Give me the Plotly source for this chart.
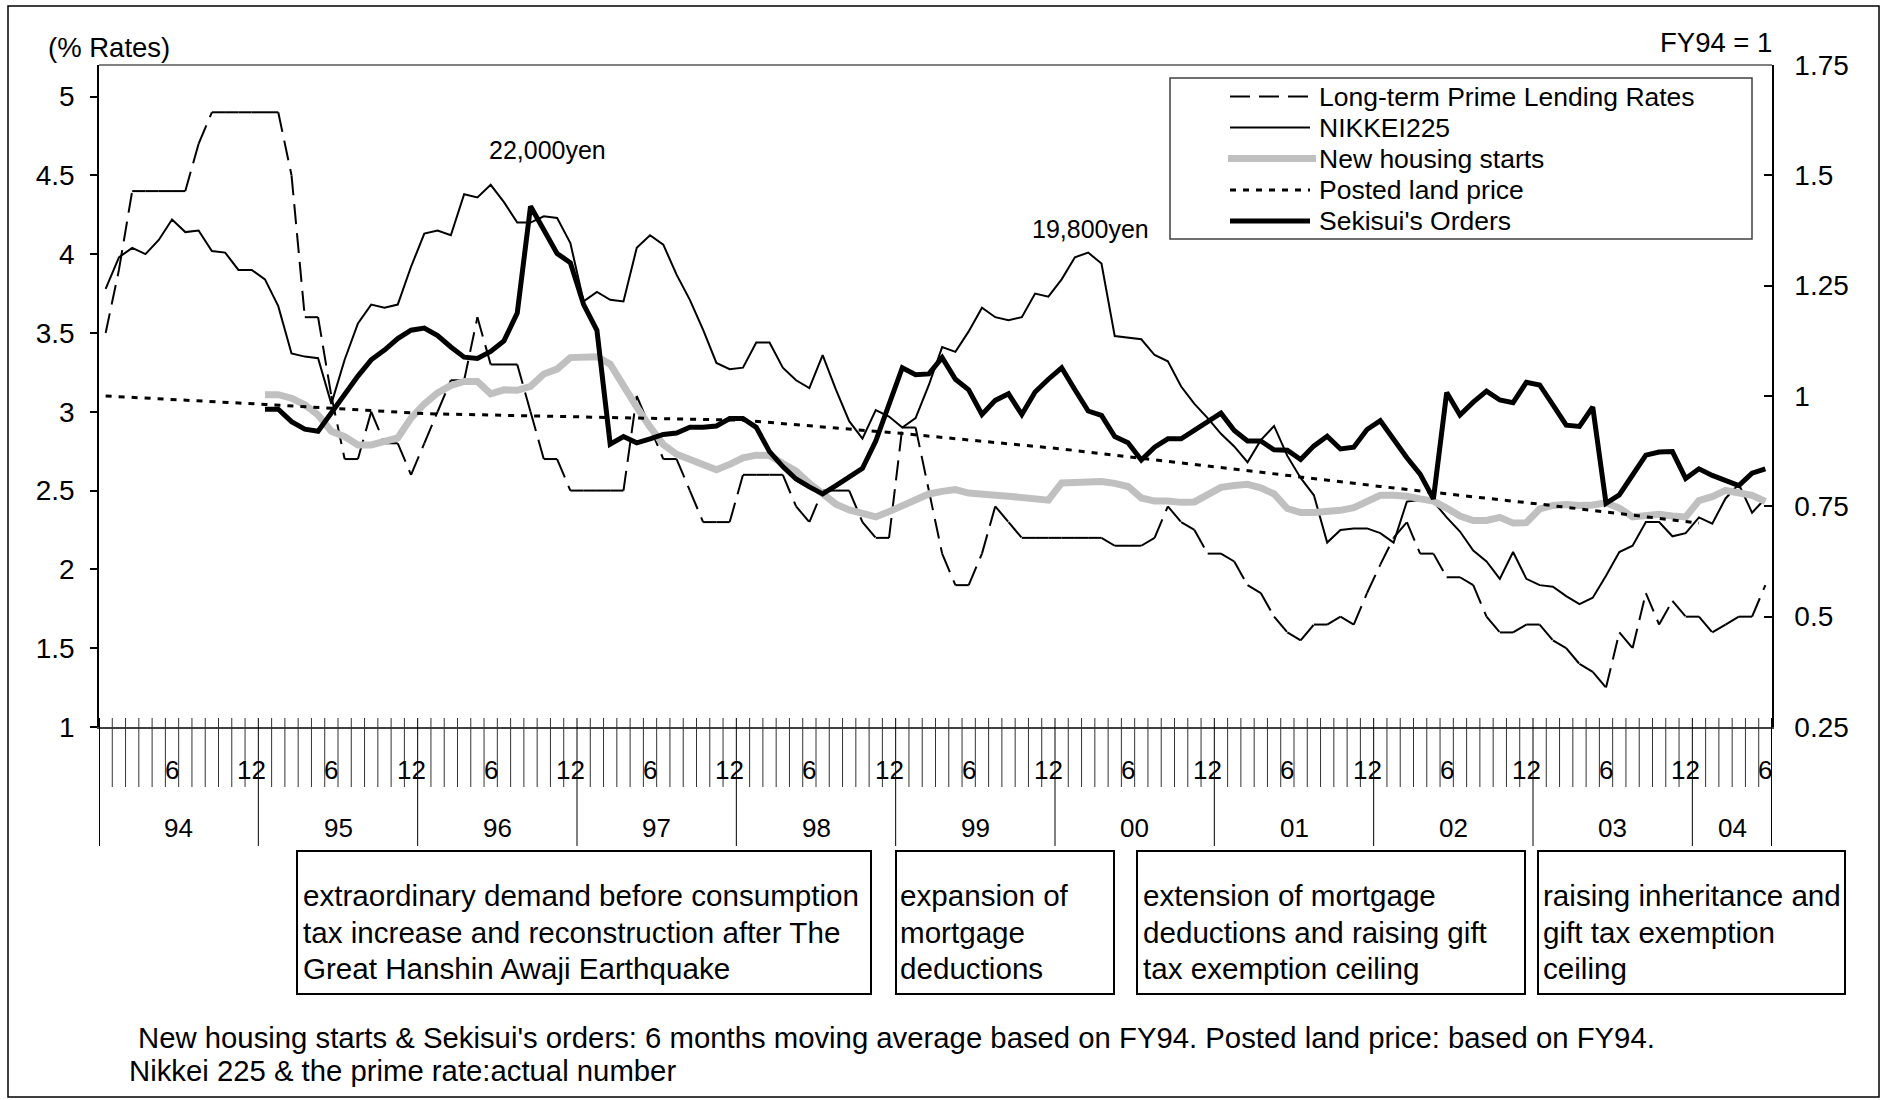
import plotly.graph_objects as go

FONT = "Liberation Sans, Arial, Helvetica, sans-serif"

# ---------------------------------------------------------------------------
# Data
# Monthly series: month index 0 = Jan 1994 ... 125 = Jun 2004
# ---------------------------------------------------------------------------
prime_rate = [
    3.5, 3.9, 4.4, 4.4, 4.4, 4.4, 4.4, 4.7, 4.9, 4.9, 4.9, 4.9,        # 1994
    4.9, 4.9, 4.5, 3.6, 3.6, 3.1, 2.7, 2.7, 3.0, 2.8, 2.8, 2.6,        # 1995
    2.8, 3.0, 3.2, 3.2, 3.6, 3.3, 3.3, 3.3, 3.0, 2.7, 2.7, 2.5,        # 1996
    2.5, 2.5, 2.5, 2.5, 3.1, 2.9, 2.7, 2.7, 2.5, 2.3, 2.3, 2.3,        # 1997
    2.6, 2.6, 2.6, 2.6, 2.4, 2.3, 2.5, 2.5, 2.5, 2.3, 2.2, 2.2,        # 1998
    2.9, 2.9, 2.5, 2.1, 1.9, 1.9, 2.1, 2.4, 2.3, 2.2, 2.2, 2.2,        # 1999
    2.2, 2.2, 2.2, 2.2, 2.15, 2.15, 2.15, 2.2, 2.4, 2.3, 2.25, 2.1,    # 2000
    2.1, 2.05, 1.9, 1.85, 1.7, 1.6, 1.55, 1.65, 1.65, 1.7, 1.65, 1.85, # 2001
    2.03, 2.2, 2.3, 2.1, 2.1, 1.95, 1.95, 1.9, 1.7, 1.6, 1.6, 1.65,    # 2002
    1.65, 1.55, 1.5, 1.4, 1.35, 1.25, 1.6, 1.5, 1.85, 1.65, 1.8, 1.7,  # 2003
    1.7, 1.6, 1.65, 1.7, 1.7, 1.9,                                     # 2004
]

nikkei225 = [
    3.78, 3.98, 4.04, 4.00, 4.09, 4.22, 4.14, 4.15, 4.02, 4.01, 3.90, 3.90,  # 1994
    3.84, 3.67, 3.37, 3.35, 3.34, 3.05, 3.33, 3.56, 3.68, 3.66, 3.68, 3.92,  # 1995
    4.13, 4.15, 4.12, 4.38, 4.36, 4.44, 4.33, 4.20, 4.20, 4.24, 4.23, 4.07,  # 1996
    3.70, 3.76, 3.71, 3.70, 4.04, 4.12, 4.06, 3.87, 3.71, 3.52, 3.31, 3.27,  # 1997
    3.28, 3.44, 3.44, 3.28, 3.20, 3.15, 3.36, 3.14, 2.94, 2.83, 3.01, 2.97,  # 1998
    2.90, 2.96, 3.17, 3.41, 3.38, 3.51, 3.66, 3.60, 3.58, 3.60, 3.75, 3.73,  # 1999
    3.84, 3.98, 4.01, 3.94, 3.48, 3.47, 3.46, 3.36, 3.32, 3.16, 3.05, 2.96,  # 2000
    2.86, 2.78, 2.68, 2.82, 2.91, 2.72, 2.58, 2.47, 2.17, 2.25, 2.26, 2.26,  # 2001
    2.23, 2.17, 2.43, 2.44, 2.43, 2.33, 2.24, 2.12, 2.05, 1.94, 2.11, 1.94,  # 2002
    1.90, 1.89, 1.83, 1.78, 1.82, 1.96, 2.11, 2.15, 2.30, 2.30, 2.21, 2.23,  # 2003
    2.33, 2.29, 2.45, 2.54, 2.36, 2.45,                                      # 2004
]

# 6-month moving averages (FY94 = 1), first value is Jan 1995
moving_avg_start = 12
housing_starts = [
    1.003, 1.003, 0.995, 0.980, 0.957, 0.920, 0.908, 0.889, 0.889, 0.895, 0.905, 0.950,  # 1995
    0.982, 1.007, 1.024, 1.033, 1.033, 1.005, 1.014, 1.013, 1.022, 1.050, 1.061, 1.087,  # 1996
    1.089, 1.089, 1.072, 1.020, 0.975, 0.930, 0.890, 0.868, 0.855, 0.845, 0.833, 0.845,  # 1997
    0.860, 0.866, 0.865, 0.847, 0.830, 0.802, 0.778, 0.755, 0.742, 0.735, 0.726, 0.738,  # 1998
    0.750, 0.762, 0.778, 0.784, 0.788, 0.780, 0.776, 0.775, 0.773, 0.771, 0.768, 0.764,  # 1999
    0.803, 0.804, 0.806, 0.806, 0.802, 0.795, 0.769, 0.762, 0.762, 0.759, 0.760, 0.775,  # 2000
    0.793, 0.797, 0.800, 0.792, 0.778, 0.745, 0.736, 0.736, 0.737, 0.741, 0.747, 0.762,  # 2001
    0.775, 0.775, 0.773, 0.767, 0.762, 0.746, 0.728, 0.718, 0.718, 0.725, 0.712, 0.713,  # 2002
    0.744, 0.752, 0.754, 0.752, 0.753, 0.758, 0.746, 0.726, 0.727, 0.732, 0.728, 0.726,  # 2003
    0.763, 0.772, 0.786, 0.780, 0.775, 0.761,                                            # 2004
]
sekisui_orders = [
    0.970, 0.970, 0.942, 0.925, 0.920, 0.961, 1.006, 1.045, 1.082, 1.104, 1.130, 1.149,  # 1995
    1.154, 1.137, 1.111, 1.088, 1.085, 1.101, 1.125, 1.188, 1.430, 1.376, 1.323, 1.302,  # 1996
    1.207, 1.149, 0.891, 0.908, 0.894, 0.903, 0.913, 0.916, 0.929, 0.929, 0.932, 0.949,  # 1997
    0.949, 0.929, 0.874, 0.840, 0.812, 0.794, 0.778, 0.797, 0.816, 0.836, 0.898, 0.985,  # 1998
    1.064, 1.048, 1.050, 1.087, 1.038, 1.014, 0.958, 0.990, 1.005, 0.958, 1.009, 1.038,  # 1999
    1.064, 1.014, 0.966, 0.956, 0.908, 0.894, 0.855, 0.884, 0.903, 0.903, 0.922, 0.942,  # 2000
    0.961, 0.922, 0.898, 0.898, 0.878, 0.877, 0.856, 0.887, 0.909, 0.880, 0.884, 0.924,  # 2001
    0.944, 0.902, 0.860, 0.823, 0.767, 1.008, 0.957, 0.986, 1.011, 0.991, 0.985, 1.031,  # 2002
    1.025, 0.980, 0.934, 0.931, 0.975, 0.757, 0.776, 0.821, 0.866, 0.873, 0.874, 0.813,  # 2003
    0.835, 0.820, 0.809, 0.797, 0.825, 0.835,                                            # 2004
]

# Posted land price (FY94 = 1), one reading each January
land_price_months = [0, 12, 24, 36, 48, 60, 72, 84, 96, 108, 120]
land_price = [1.000, 0.981, 0.960, 0.953, 0.945, 0.915, 0.880, 0.838, 0.795, 0.755, 0.712]

year_labels = ["94", "95", "96", "97", "98", "99", "00", "01", "02", "03", "04"]
month_tick_labels = {6: "6", 12: "12"}

left_ticks = [1, 1.5, 2, 2.5, 3, 3.5, 4, 4.5, 5]
right_ticks = [0.25, 0.5, 0.75, 1, 1.25, 1.5, 1.75]

policy_notes = [
    ["extraordinary demand before consumption",
     "tax increase and reconstruction after The",
     "Great Hanshin Awaji Earthquake"],
    ["expansion of", "mortgage", "deductions"],
    ["extension of mortgage", "deductions and raising gift", "tax exemption ceiling"],
    ["raising inheritance and", "gift tax exemption", "ceiling"],
]
footnotes = [
    "New housing starts & Sekisui's orders: 6 months moving average based on FY94. Posted land price: based on FY94.",
    "Nikkei 225 & the prime rate:actual number",
]

# ---------------------------------------------------------------------------
# Page geometry (pixels) and helpers to place layout items in paper units
# ---------------------------------------------------------------------------
W, H = 1886, 1100
PL, PR, PT, PB = 99, 1772, 65, 727


def px_x(v):
    return (v - PL) / (PR - PL)


def px_y(v):
    return (PB - v) / (PB - PT)


n_months = len(prime_rate)
months = list(range(n_months))
ma_months = list(range(moving_avg_start, moving_avg_start + len(housing_starts)))

STYLE = {
    "prime": dict(color="black", width=2, dash="20px,9px"),
    "nikkei": dict(color="black", width=2),
    "housing": dict(color="#C0C0C0", width=7),
    "land": dict(color="black", width=3, dash="6px,7px"),
    "orders": dict(color="black", width=5),
}

fig = go.Figure()

# Prime rate: every monthly step is a separate sub-path so the dash restarts each month
prime_x, prime_y = [], []
for k in range(n_months - 1):
    prime_x += [months[k], months[k + 1], None]
    prime_y += [prime_rate[k], prime_rate[k + 1], None]
fig.add_trace(go.Scatter(x=prime_x, y=prime_y, mode="lines", connectgaps=False,
                         line=STYLE["prime"], name="Long-term Prime Lending Rates",
                         hoverinfo="skip"))
fig.add_trace(go.Scatter(x=months, y=nikkei225, mode="lines", line=STYLE["nikkei"],
                         name="NIKKEI225"))
fig.add_trace(go.Scatter(x=ma_months, y=housing_starts, mode="lines", line=STYLE["housing"],
                         name="New housing starts", yaxis="y2"))
fig.add_trace(go.Scatter(x=land_price_months, y=land_price, mode="lines", line=STYLE["land"],
                         name="Posted land price", yaxis="y2"))
fig.add_trace(go.Scatter(x=ma_months, y=sekisui_orders, mode="lines", line=STYLE["orders"],
                         name="Sekisui's Orders", yaxis="y2"))

shapes = []
annotations = []

# Month ticks crossing the category axis, long separators at year boundaries
tick_top, tick_bot, year_bot = px_y(718), px_y(787), px_y(846)
for b in range(n_months + 1):
    is_year = b % 12 == 0 or b == n_months
    edge = b in (0, n_months)
    shapes.append(dict(type="line", xref="x", yref="paper", x0=b - 0.5, x1=b - 0.5,
                       y0=tick_top, y1=year_bot if is_year else tick_bot,
                       line=dict(color="black" if is_year else "#333333",
                                 width=2 if edge else 1)))

for i in months:
    m = i % 12 + 1
    if m in month_tick_labels:
        annotations.append(dict(text=month_tick_labels[m], xref="x", yref="paper",
                                x=i, y=px_y(770), showarrow=False,
                                xanchor="center", yanchor="middle", font=dict(size=26)))

for k, lab in enumerate(year_labels):
    start = 12 * k - 0.5
    end = min(12 * k + 11.5, n_months - 0.5)
    annotations.append(dict(text=lab, xref="x", yref="paper", x=(start + end) / 2,
                            y=px_y(828), showarrow=False, xanchor="center",
                            yanchor="middle", font=dict(size=26)))

# Plot frame top edge and outer border
shapes.append(dict(type="line", xref="paper", yref="paper", x0=0, x1=1, y0=1, y1=1,
                   line=dict(color="#808080", width=2)))
shapes.append(dict(type="rect", xref="paper", yref="paper",
                   x0=px_x(8), x1=px_x(1879), y0=px_y(1097), y1=px_y(6),
                   line=dict(color="black", width=1.5)))

# Legend box with line samples
shapes.append(dict(type="rect", xref="paper", yref="paper", layer="above",
                   x0=px_x(1170), x1=px_x(1752), y0=px_y(239), y1=px_y(78),
                   fillcolor="white", line=dict(color="#404040", width=1.5)))
legend_rows = [
    ("Long-term Prime Lending Rates", "prime", 96.5),
    ("NIKKEI225", "nikkei", 127.5),
    ("New housing starts", "housing", 158.5),
    ("Posted land price", "land", 190),
    ("Sekisui's Orders", "orders", 221),
]
for label, key, yc in legend_rows:
    st = dict(STYLE[key])
    x0, x1 = (1228, 1316) if key == "housing" else (1230, 1310)
    shapes.append(dict(type="line", xref="paper", yref="paper", layer="above",
                       x0=px_x(x0), x1=px_x(x1), y0=px_y(yc), y1=px_y(yc), line=st))
    annotations.append(dict(text=label, xref="paper", yref="paper", x=px_x(1317),
                            y=px_y(yc), showarrow=False, xanchor="left",
                            yanchor="middle", font=dict(size=26.5)))

# Peak notes for the Nikkei line
annotations.append(dict(text="22,000yen", xref="x", yref="y", x=33.3, y=4.66,
                        showarrow=False, font=dict(size=25)))
annotations.append(dict(text="19,800yen", xref="x", yref="y", x=74.2, y=4.16,
                        showarrow=False, font=dict(size=25)))

# Axis captions
annotations.append(dict(text="(% Rates)", xref="paper", yref="paper", x=px_x(46),
                        y=px_y(48), showarrow=False, xanchor="left", yanchor="middle",
                        font=dict(size=27.5)))
annotations.append(dict(text="FY94 = 1", xref="paper", yref="paper", x=px_x(1774),
                        y=px_y(43), showarrow=False, xanchor="right", yanchor="middle",
                        font=dict(size=27.5)))

# Policy boxes under the time axis
box_edges = [(297, 871), (896, 1114), (1137, 1525), (1538, 1845)]
text_left = [301, 898, 1141, 1541]
line_y = [895, 932, 968]
for (bx0, bx1), tx, lines in zip(box_edges, text_left, policy_notes):
    shapes.append(dict(type="rect", xref="paper", yref="paper",
                       x0=px_x(bx0), x1=px_x(bx1), y0=px_y(994), y1=px_y(851),
                       line=dict(color="black", width=2)))
    for ly, txt in zip(line_y, lines):
        annotations.append(dict(text=txt, xref="paper", yref="paper", x=px_x(tx),
                                y=px_y(ly), showarrow=False, xanchor="left",
                                yanchor="middle", font=dict(size=29.6)))

# Footnotes
for fx_, fy_, txt in zip([136, 127], [1037, 1070], footnotes):
    annotations.append(dict(text=txt, xref="paper", yref="paper", x=px_x(fx_),
                            y=px_y(fy_), showarrow=False, xanchor="left",
                            yanchor="middle", font=dict(size=29.3)))

fig.update_layout(
    width=W, height=H,
    margin=dict(l=PL, r=W - PR, t=PT, b=H - PB, pad=0),
    paper_bgcolor="white", plot_bgcolor="white",
    showlegend=False,
    font=dict(family=FONT, color="black", size=26),
    xaxis=dict(range=[-0.5, n_months - 0.5], showgrid=False, zeroline=False,
               showticklabels=False, ticks="", showline=True,
               linecolor="#404040", linewidth=2),
    yaxis=dict(range=[1, 5.2], tickvals=left_ticks, ticks="outside", ticklen=7,
               tickwidth=1.5, tickcolor="black", showline=True, linecolor="black",
               linewidth=1.5, showgrid=False, zeroline=False,
               tickfont=dict(size=28), ticklabelstandoff=10),
    yaxis2=dict(range=[0.25, 1.75], tickvals=right_ticks, overlaying="y", side="right",
                ticks="inside", ticklen=8, tickwidth=1.5, tickcolor="black",
                showline=True, linecolor="black", linewidth=1.5, showgrid=False,
                zeroline=False, tickfont=dict(size=28), ticklabelstandoff=15),
    shapes=shapes,
    annotations=annotations,
)

fig.write_html("out.html", post_script="document.body.style.margin='0';")
